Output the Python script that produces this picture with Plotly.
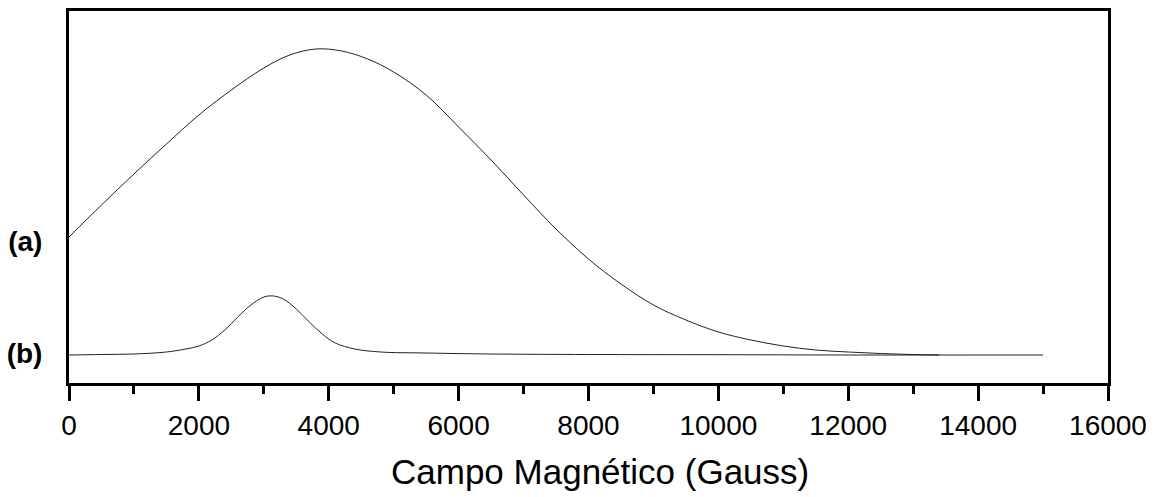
import plotly.graph_objects as go

# Curve (a): broad EPR line (offset vertically)
field_a = [0, 500, 1000, 1500, 2000, 2500, 3000, 3400, 3800, 4200, 4600, 5000,
           5500, 6000, 6500, 7000, 7500, 8000, 8500, 9000, 9500, 10000, 10500,
           11000, 11500, 12000, 12500, 13000, 13400]
signal_a = [1.18, 1.50, 1.81, 2.11, 2.40, 2.65, 2.87, 3.00, 3.06, 3.04, 2.96, 2.83,
            2.60, 2.28, 1.95, 1.60, 1.26, 0.96, 0.71, 0.50, 0.35, 0.23, 0.15,
            0.09, 0.05, 0.03, 0.015, 0.005, 0.0]

# Curve (b): narrow line
field_b = [0, 500, 1000, 1500, 1800, 2000, 2200, 2400, 2600, 2800, 3000, 3150,
           3300, 3500, 3700, 3900, 4100, 4400, 4800, 5500, 6500, 8000, 10000,
           12000, 15000]
signal_b = [0.0, 0.005, 0.01, 0.03, 0.06, 0.09, 0.15, 0.25, 0.38, 0.50, 0.58, 0.59,
            0.56, 0.46, 0.33, 0.21, 0.12, 0.06, 0.03, 0.02, 0.01, 0.005, 0.003,
            0.0, 0.0]

x_ticks = [0, 2000, 4000, 6000, 8000, 10000, 12000, 14000, 16000]
x_ticktext = ["0", "2000", "4000", "6000", "8000", "10000", "12000", "14000", "16000"]
y_labels = ["(a)", "(b)"]
y_label_pos = [1.14, 0.02]
x_title = "Campo Magnético (Gauss)"

FONT = "Liberation Sans, Arial, sans-serif"

fig = go.Figure()
fig.add_trace(go.Scatter(x=field_a, y=signal_a, mode="lines",
                         line=dict(color="#222222", width=1, shape="spline", smoothing=1.0),
                         showlegend=False, hoverinfo="skip"))
fig.add_trace(go.Scatter(x=field_b, y=signal_b, mode="lines",
                         line=dict(color="#222222", width=1, shape="spline", smoothing=1.0),
                         showlegend=False, hoverinfo="skip"))

fig.update_layout(
    width=1157, height=497,
    margin=dict(l=69, r=49, t=11, b=114),
    paper_bgcolor="white", plot_bgcolor="white",
    font=dict(family=FONT, color="black"),
    showlegend=False,
)
fig.update_xaxes(
    range=[0, 16000], showgrid=False, zeroline=False, automargin=False,
    showline=True, linecolor="black", linewidth=3, mirror=True,
    tickmode="array", tickvals=x_ticks, ticktext=x_ticktext,
    ticks="outside", ticklen=15, tickwidth=2.5, tickcolor="black",
    tickfont=dict(family=FONT, size=28, color="black"),
    minor=dict(dtick=1000, tick0=0, ticks="outside", ticklen=8, tickwidth=2.5,
               tickcolor="black", showgrid=False),
)
fig.update_yaxes(
    range=[-0.28, 3.44], showgrid=False, zeroline=False, automargin=False,
    showline=True, linecolor="black", linewidth=3, mirror=True,
    tickmode="array", tickvals=y_label_pos, ticktext=y_labels,
    ticks="", ticklabelstandoff=18,
    tickfont=dict(family=FONT, size=28, color="black", weight="bold"),
)
fig.add_annotation(text=x_title, xref="paper", yref="paper", x=0.511, y=-0.239,
                   xanchor="center", yanchor="middle", showarrow=False,
                   font=dict(family=FONT, size=35, color="black"))

fig.write_html("out.html")
